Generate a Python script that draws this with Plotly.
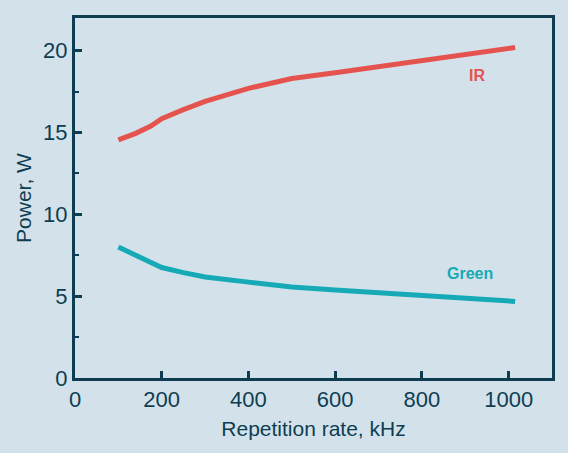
import plotly.graph_objects as go

ir_x = [100, 140, 175, 200, 250, 300, 400, 500, 600, 800, 1015]
ir_y = [14.55, 14.95, 15.4, 15.85, 16.4, 16.9, 17.7, 18.3, 18.65, 19.4, 20.2]
green_x = [100, 200, 250, 300, 400, 500, 600, 800, 1015]
green_y = [8.0, 6.75, 6.44, 6.17, 5.86, 5.56, 5.38, 5.05, 4.68]

x_ticks = [0, 200, 400, 600, 800, 1000]
y_ticks = [0, 5, 10, 15, 20]

bg = "#d3e2ea"
axc = "#0e3d52"
red = "#e5534f"
teal = "#16a9b6"
font = "Liberation Sans, Arial, sans-serif"

fig = go.Figure()
fig.add_trace(go.Scatter(x=ir_x, y=ir_y, mode="lines", line=dict(color=red, width=5), showlegend=False))
fig.add_trace(go.Scatter(x=green_x, y=green_y, mode="lines", line=dict(color=teal, width=5), showlegend=False))

fig.add_annotation(x=928, y=18.5, text="<b>IR</b>", showarrow=False, font=dict(color=red, size=16, family=font))
fig.add_annotation(x=910, y=6.4, text="<b>Green</b>", showarrow=False, font=dict(color=teal, size=16, family=font))

axis_common = dict(showline=True, linecolor=axc, linewidth=3, mirror=True, ticks="inside",
                   tickcolor=axc, tickwidth=3, ticklen=7, showgrid=False, zeroline=False,
                   tickfont=dict(size=22, color=axc, family=font))

fig.update_xaxes(range=[0, 1100], tickvals=x_ticks, ticktext=[str(v) for v in x_ticks],
                 title=dict(text="Repetition rate, kHz", font=dict(size=21, color=axc, family=font), standoff=10),
                 **axis_common)
fig.update_yaxes(range=[0, 22], tickvals=y_ticks, ticktext=[str(v) for v in y_ticks],
                 minor=dict(ticks="inside", ticklen=4, tickwidth=2, tickcolor=axc, dtick=2.5, tick0=0),
                 title=dict(text="Power, W", font=dict(size=21, color=axc, family=font), standoff=6),
                 **axis_common)

fig.update_layout(width=568, height=453, paper_bgcolor=bg, plot_bgcolor=bg,
                  margin=dict(l=75, r=16, t=18, b=75))
fig.write_html("out.html", config={"displayModeBar": False},
               post_script="document.body.style.margin='0';document.body.style.background='%s';" % bg)
